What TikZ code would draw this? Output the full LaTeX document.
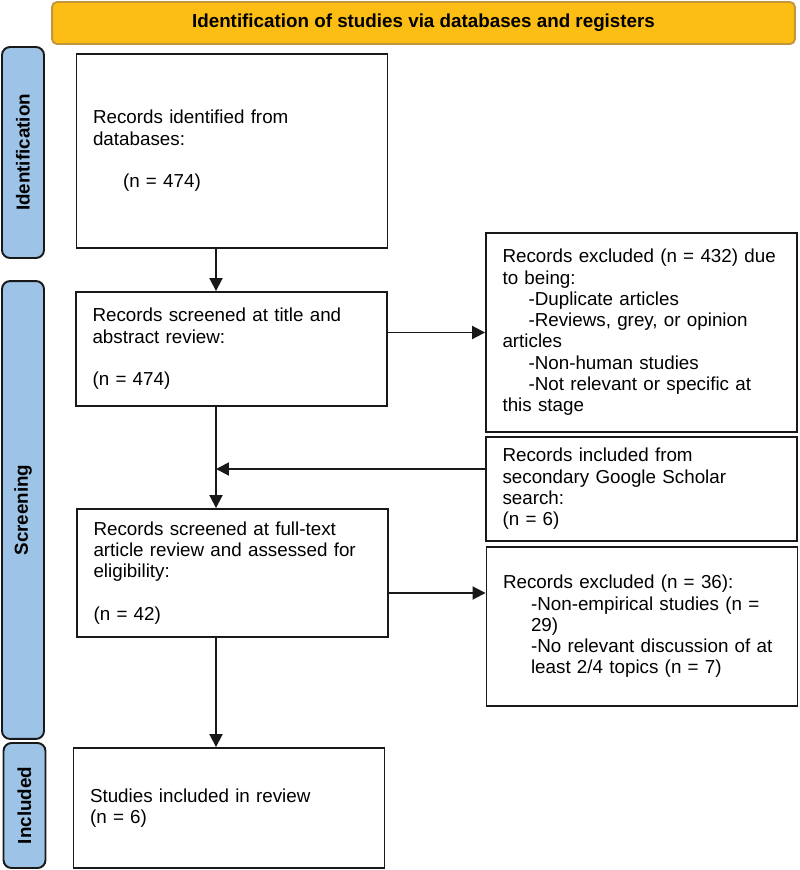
\documentclass[tikz,border=0pt]{standalone}
\usepackage{fontspec}
\setmainfont{Liberation Sans}
\usepackage{xcolor}
\usepackage{tikz}
\usetikzlibrary{positioning, arrows.meta}
\definecolor{HeadGold}{RGB}{252,190,20}
\definecolor{HeadEdge}{RGB}{196,150,60}
\definecolor{StageBlue}{RGB}{157,195,230}
\definecolor{EdgeBlack}{RGB}{25,25,25}
\tikzset{
  flowbox/.style={draw=EdgeBlack, line width=1.1pt, fill=white, minimum width=6.22cm,
    text width=5.56cm, inner xsep=0.33cm, inner ysep=2pt, align=left,
    font=\fontsize{10.7}{12.1}\selectfont},
  stagebar/.style={draw=EdgeBlack, line width=1.1pt, fill=StageBlue, rounded corners=0.16cm,
    minimum height=0.84cm, inner sep=0pt, rotate=90, font=\fontsize{10.7}{12.1}\selectfont\bfseries},
  headbar/.style={draw=HeadEdge, line width=1.1pt, fill=HeadGold, rounded corners=0.1cm,
    minimum width=14.86cm, minimum height=0.84cm, inner sep=0pt,
    font=\fontsize{10.7}{12.1}\selectfont\bfseries},
  flowarrow/.style={-{Triangle[length=0.26cm,width=0.26cm]}, line width=1.1pt, EdgeBlack},
}

\begin{document}
\begin{tikzpicture}[x=0.02cm, y=-0.02cm]
  \useasboundingbox (0,0) rectangle (800,870);

  % header and stage bars
  \node[headbar] (head) at (423.5,23) {Identification of studies via databases and registers};
  \node[stagebar, minimum width=4.22cm] (ident) at (23,152.5) {Identification};
  \node[stagebar, minimum width=9.16cm] (screen) at (23,510) {Screening};
  \node[stagebar, minimum width=2.5cm] (incl) at (24.5,805.5) {Included};

  % main column
  \node[flowbox, minimum height=3.88cm] (found) at (232,151)
    {Records identified from\\ databases:\\[12.1pt] \hspace*{0.6cm}(n = 474)};
  \node[flowbox, minimum height=2.28cm] (title) at (231.5,349)
    {Records screened at title and\\ abstract review:\\[12.1pt] (n = 474)};
  \node[flowbox, minimum height=2.56cm] (fulltext) at (232.5,573)
    {Records screened at full-text\\ article review and assessed for\\ eligibility:\\[12.1pt] (n = 42)};
  \node[flowbox, minimum height=2.4cm] (final) at (229,808)
    {Studies included in review\\ (n = 6)};

  % side column
  \node[flowbox, minimum height=3.98cm] (excl1) at (641.5,332.5)
    {Records excluded (n = 432) due\\ to being:\\
     \hspace*{0.52cm}-Duplicate articles\\
     \hspace*{0.52cm}-Reviews, grey, or opinion\\ articles\\
     \hspace*{0.52cm}-Non-human studies\\
     \hspace*{0.52cm}-Not relevant or specific at\\ this stage};
  \node[flowbox, minimum height=2.08cm] (scholar) at (641.5,489)
    {Records included from\\ secondary Google Scholar\\ search:\\ (n = 6)};
  \node[flowbox, minimum height=3.18cm] (excl2) at (642,626.5)
    {Records excluded (n = 36):\\
     \hspace*{0.56cm}-Non-empirical studies (n =\\ \hspace*{0.56cm}29)\\
     \hspace*{0.56cm}-No relevant discussion of at\\ \hspace*{0.56cm}least 2/4 topics (n = 7)};

  \coordinate (spine) at (216,0);

  \draw[flowarrow] (found.south -| spine) -- (title.north -| spine);
  \draw[flowarrow] (title.east |- excl1.west) -- (excl1.west);
  \draw[flowarrow] (title.south -| spine) -- (fulltext.north -| spine);
  \draw[flowarrow] ([yshift=0.4cm]scholar.west) -- ([yshift=0.4cm]scholar.west -| spine);
  \draw[flowarrow] ([yshift=-0.4cm]fulltext.east) -- ([yshift=-0.4cm]fulltext.east -| excl2.west);
  \draw[flowarrow] (fulltext.south -| spine) -- (final.north -| spine);
\end{tikzpicture}
\end{document}
